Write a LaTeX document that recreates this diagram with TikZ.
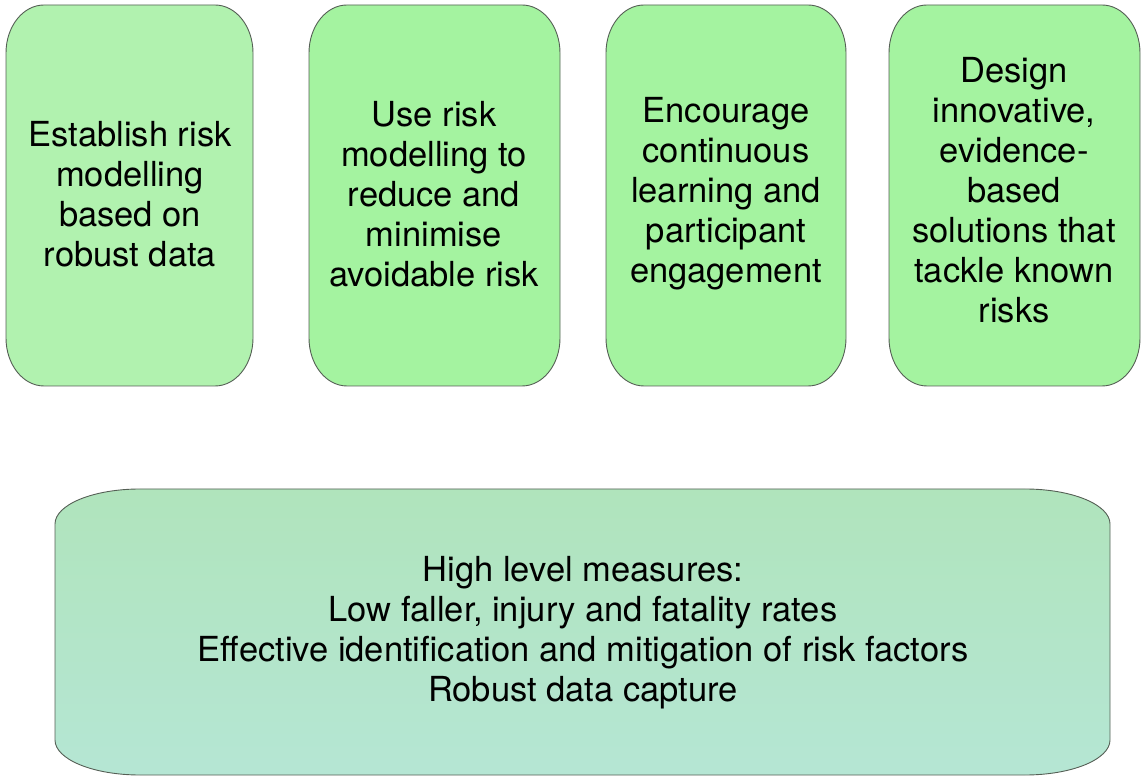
\documentclass[tikz,border=0pt]{standalone}
\usepackage{fontspec}
\setmainfont{TeX Gyre Heros}
\definecolor{gA}{RGB}{177,242,175}
\definecolor{gB}{RGB}{164,243,160}
\definecolor{gTop}{RGB}{176,228,188}
\definecolor{gBot}{RGB}{181,230,212}
\definecolor{edge}{RGB}{85,95,85}
\newcommand\ellboxpath[6]{({#1+#5},#2) -- ({#3-#5},#2) arc[start angle=-90,end angle=0,x radius=#5,y radius=#6] -- (#3,{#4-#6}) arc[start angle=0,end angle=90,x radius=#5,y radius=#6] -- ({#1+#5},#4) arc[start angle=90,end angle=180,x radius=#5,y radius=#6] -- (#1,{#2+#6}) arc[start angle=180,end angle=270,x radius=#5,y radius=#6] -- cycle}
\tikzset{
  boxline/.style={draw=edge, line width=0.9pt},
  boxtext/.style={align=center, font=\fontsize{34.5}{40}\selectfont, text=black, inner sep=0pt}
}
\begin{document}
\begin{tikzpicture}[x=1pt,y=1pt]
\useasboundingbox (0,0) rectangle (1142,776);
\path[boxline, fill=gA] \ellboxpath{6}{390}{253}{771}{38}{48};
\path[boxline, fill=gB] \ellboxpath{309}{390}{560}{771}{38}{48};
\path[boxline, fill=gB] \ellboxpath{606}{390}{846}{771}{38}{48};
\path[boxline, fill=gB] \ellboxpath{889}{390}{1140}{771}{38}{48};
\path[boxline, top color=gTop, bottom color=gBot] \ellboxpath{55}{1}{1110}{287}{85}{35};
\node[boxtext] (b1) at (130,582) {Establish risk\\modelling\\based on\\robust data};
\node[boxtext] (b2) at (434,582) {Use risk\\modelling to\\reduce and\\minimise\\avoidable risk};
\node[boxtext] (b3) at (726,582) {Encourage\\continuous\\learning and\\participant\\engagement};
\node[boxtext] (b4) at (1014,586) {Design\\innovative,\\evidence-\\based\\solutions that\\tackle known\\risks};
\node[boxtext] (m) at (583,143) {High level measures:\\Low faller, injury and fatality rates\\Effective identification and mitigation of risk factors\\Robust data capture};
\end{tikzpicture}
\end{document}
